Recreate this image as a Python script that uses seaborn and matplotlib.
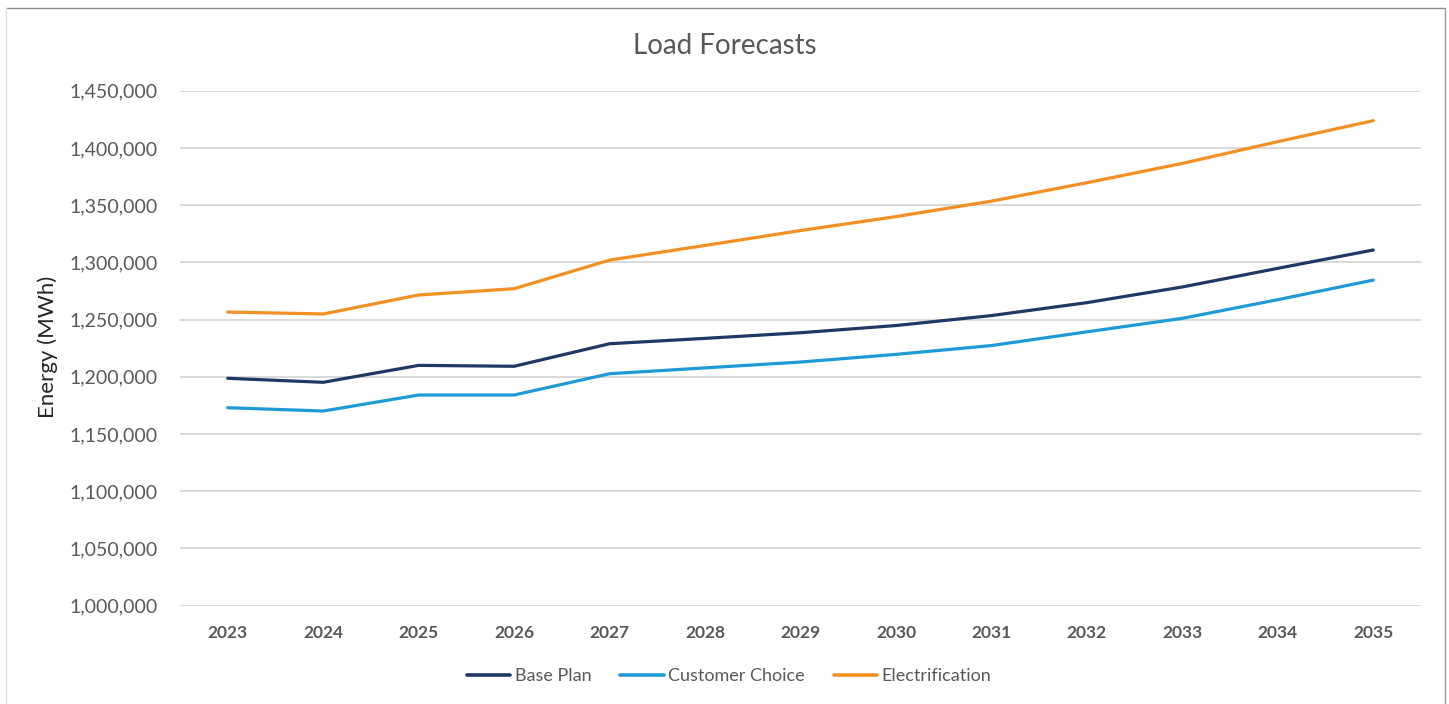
import matplotlib
matplotlib.use("Agg")
import matplotlib.pyplot as plt
from matplotlib.lines import Line2D
from matplotlib.ticker import FuncFormatter
import seaborn as sns
import pandas as pd

# Annual energy forecasts (MWh) by scenario
years = [2023, 2024, 2025, 2026, 2027, 2028, 2029, 2030, 2031, 2032, 2033, 2034, 2035]
base_plan = [1198700, 1195200, 1210000, 1209200, 1228900, 1233600, 1238500,
             1244800, 1253500, 1264800, 1278500, 1294800, 1310800]
customer_choice = [1173000, 1170100, 1184100, 1184100, 1202700, 1207800, 1212900,
                   1219600, 1227300, 1239300, 1251100, 1267400, 1284500]
electrification = [1256600, 1254900, 1271500, 1277000, 1302000, 1314800, 1327800,
                   1340000, 1353500, 1369600, 1386500, 1405500, 1423800]

scenarios = ["Base Plan", "Customer Choice", "Electrification"]
colors = ["#1F3864", "#1E9BD7", "#F39021"]
y_ticks = list(range(1000000, 1450001, 50000))

df = pd.DataFrame({
    "Year": years * 3,
    "Energy": base_plan + customer_choice + electrification,
    "Scenario": [s for s in scenarios for _ in years],
})

sns.set_theme(style="white")
plt.rcParams["font.family"] = ["Lato", "DejaVu Sans"]

W, H = 1449, 704
fig = plt.figure(figsize=(W / 100, H / 100), dpi=100)
ax = fig.add_axes([180 / W, 1 - 605.7 / H, (1421 - 180) / W, (605.7 - 90.7) / H])

sns.lineplot(data=df, x="Year", y="Energy", hue="Scenario", hue_order=scenarios,
             palette=colors, linewidth=2.3, ax=ax, legend=False, zorder=3)

ax.set_xlim(years[0] - 0.5, years[-1] + 0.5)
ax.set_ylim(y_ticks[0], y_ticks[-1])
ax.set_xticks(years)
ax.set_xticklabels([str(y) for y in years])
ax.set_yticks(y_ticks)
ax.yaxis.set_major_formatter(FuncFormatter(lambda v, p: f"{int(v):,}"))
ax.grid(axis="y", color="#D9D9D9", linewidth=1.4, zorder=0)
ax.grid(axis="x", visible=False)
for sp in ax.spines.values():
    sp.set_visible(False)
ax.tick_params(axis="y", length=0, pad=16, labelsize=14, labelcolor="#595959")
ax.tick_params(axis="x", length=0, pad=14, labelsize=12.5, labelcolor="#595959")
for lbl in ax.get_xticklabels():
    lbl.set_fontweight("bold")
ax.set_xlabel("")
ax.set_ylabel("")

fig.text(725 / W, 1 - 46 / H, "Load Forecasts", ha="center", va="center",
         fontsize=20, color="#595959")
fig.text(48 / W, 1 - 347 / H, "Energy (MWh)", ha="center", va="center",
         rotation=90, fontsize=16, color="#262626")

handles = [Line2D([0], [0], color=c, linewidth=2.6) for c in colors]
fig.legend(handles, scenarios, loc="center", bbox_to_anchor=(729 / W, 1 - 676 / H),
           ncol=3, frameon=False, fontsize=13, handlelength=2.4, handletextpad=0.25,
           columnspacing=1.6, labelcolor="#595959")

# Chart frame
fig.add_artist(Line2D([6 / W, 1445 / W], [1 - 8 / H, 1 - 8 / H],
                      transform=fig.transFigure, color="#8C8C8C", linewidth=1))
fig.add_artist(Line2D([6 / W, 6 / W], [0, 1 - 8 / H],
                      transform=fig.transFigure, color="#E0E0E0", linewidth=1))
fig.add_artist(Line2D([1445 / W, 1445 / W], [0, 1 - 8 / H],
                      transform=fig.transFigure, color="#9A9A9A", linewidth=1))

fig.savefig("out.png", dpi=100, facecolor="white")
